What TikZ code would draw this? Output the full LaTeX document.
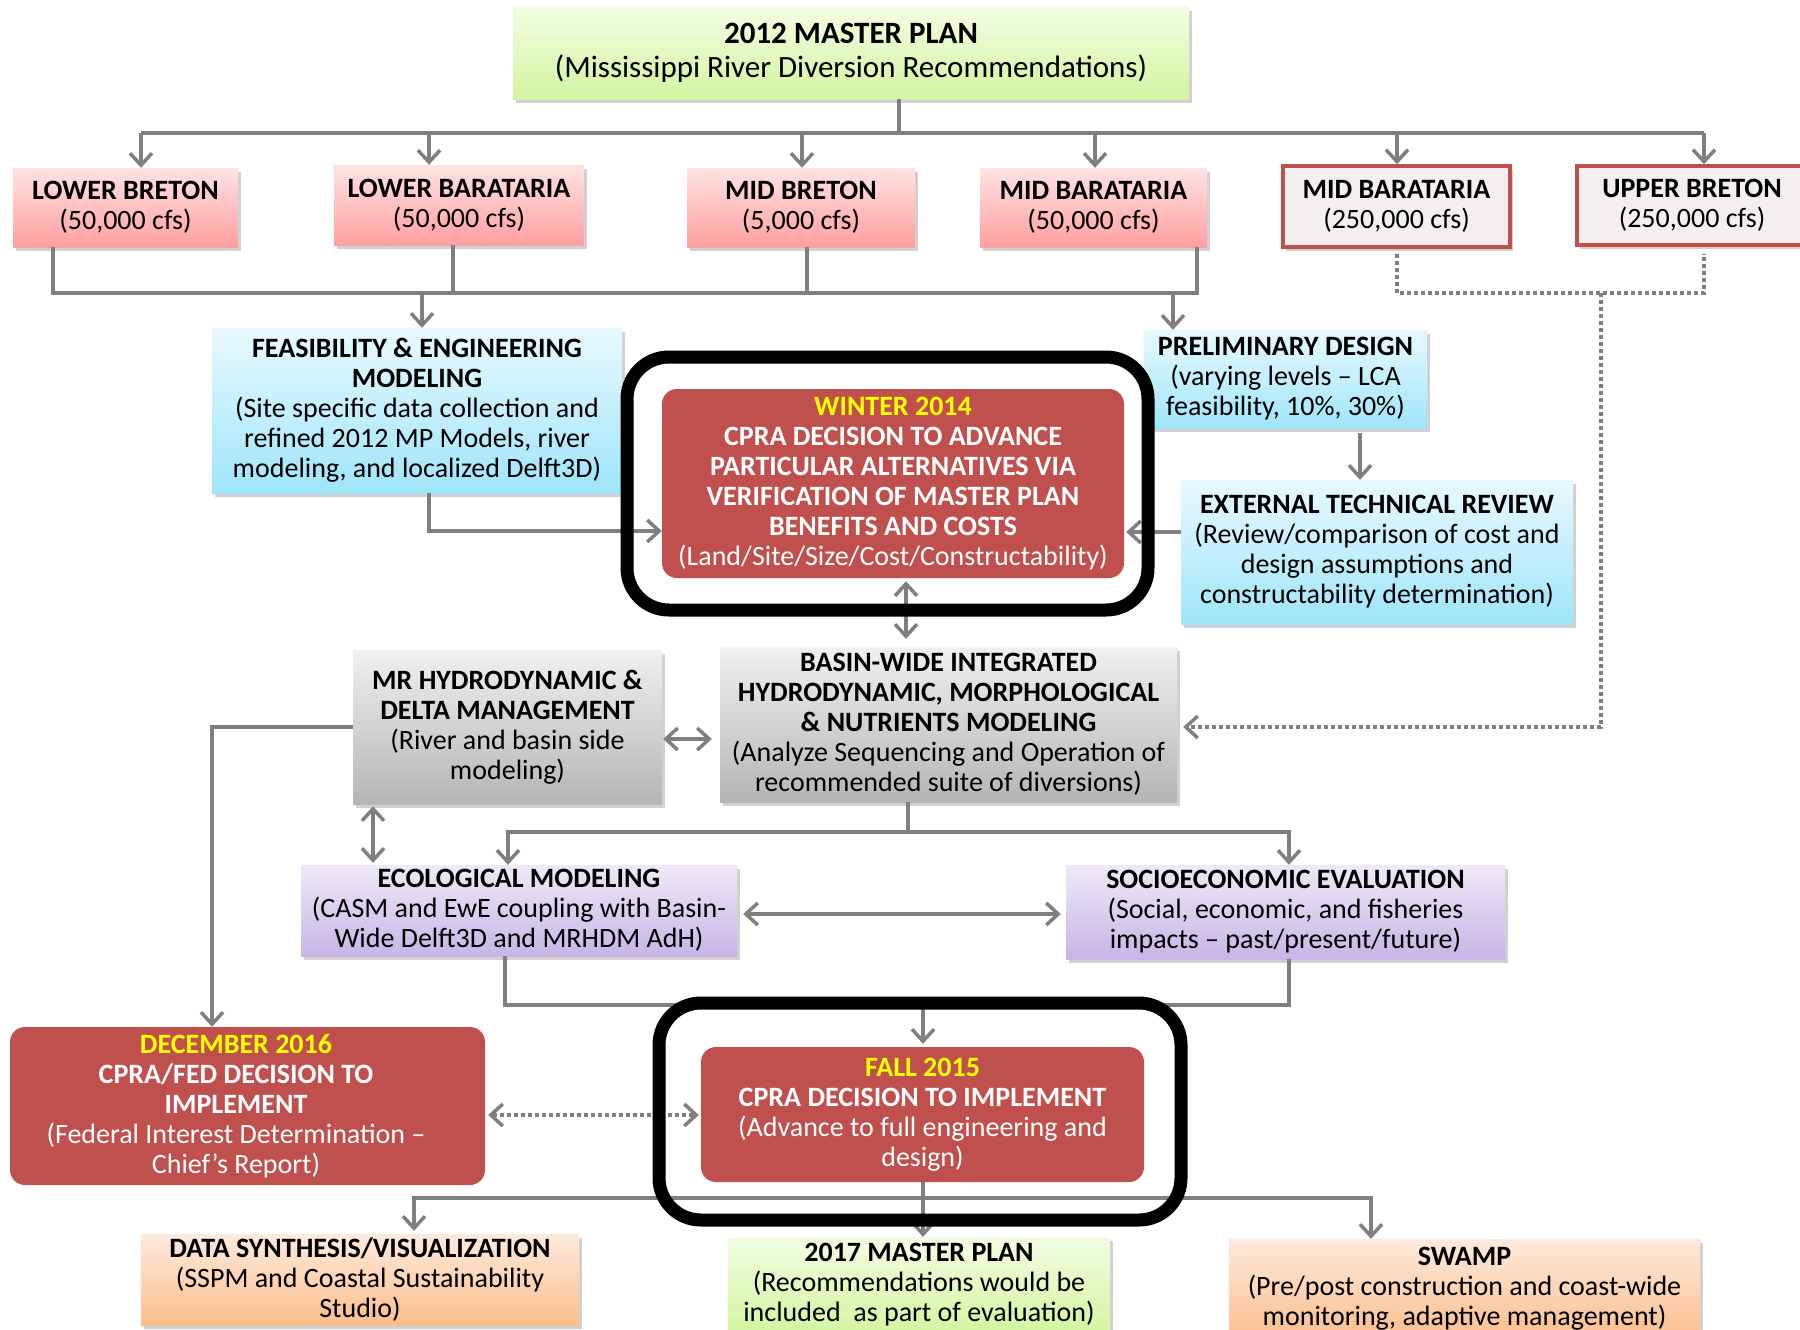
\documentclass[tikz,border=0pt]{standalone}
\usepackage{fontspec}
\setmainfont{Carlito}
\usetikzlibrary{arrows.meta,shadows,calc}
\definecolor{connc}{HTML}{7F7F7F}
\definecolor{cprared}{HTML}{C0504D}
\definecolor{greenT}{HTML}{F2FDE3}
\definecolor{greenB}{HTML}{D3F5A0}
\definecolor{pinkT}{HTML}{FFE3E3}
\definecolor{pinkB}{HTML}{FF9F9F}
\definecolor{blueT}{HTML}{E8F9FE}
\definecolor{blueB}{HTML}{9FE5FA}
\definecolor{grayT}{HTML}{F0F0F0}
\definecolor{grayB}{HTML}{B5B5B5}
\definecolor{purpT}{HTML}{EEE9F7}
\definecolor{purpB}{HTML}{C7B5E6}
\definecolor{orT}{HTML}{FEEADD}
\definecolor{orB}{HTML}{FBBE8C}
\definecolor{offwhite}{HTML}{F2EFEE}
\definecolor{yel}{HTML}{FFFF00}
\newcommand{\rpad}{\rule{23pt}{0pt}}
\begin{document}
\begin{tikzpicture}[x=1pt,y=-1pt,
  box/.style={inner sep=0pt, align=center, font=\fontsize{28}{30}\selectfont, text=black,
    drop shadow={shadow xshift=3pt, shadow yshift=-4pt, opacity=0.3, fill=black!60}},
  pinkbox/.style={box, top color=pinkT, bottom color=pinkB},
  greenbox/.style={box, top color=greenT, bottom color=greenB},
  bluebox/.style={box, top color=blueT, bottom color=blueB},
  graybox/.style={box, top color=grayT, bottom color=grayB},
  purpbox/.style={box, top color=purpT, bottom color=purpB},
  orbox/.style={box, top color=orT, bottom color=orB},
  altbox/.style={box, fill=offwhite, draw=cprared, line width=3.5pt},
  redbox/.style={inner sep=0pt, align=center, font=\fontsize{28}{30}\selectfont, text=white,
    fill=cprared, rounded corners=15pt},
  frame/.style={draw=black, line width=13pt, rounded corners=42pt, inner sep=0pt},
  conn/.style={draw=connc, line width=3.5pt},
  arr/.style={conn, -{Straight Barb[length=12pt,width=22pt]}},
  dbl/.style={conn, {Straight Barb[length=12pt,width=22pt]}-{Straight Barb[length=12pt,width=22pt]}},
  dots/.style={conn, dash pattern=on 4pt off 3pt},
  dotarr/.style={dots, -{Straight Barb[length=12pt,width=22pt]}},
  dotdbl/.style={dots, {Straight Barb[length=12pt,width=22pt]}-{Straight Barb[length=12pt,width=22pt]}},
]
\useasboundingbox (0,0) rectangle (1800,1330);

% ---------- nodes ----------
\node[greenbox, minimum width=676pt, minimum height=92pt, font=\fontsize{31}{34}\selectfont] (mp2012) at (851,53)
  {\textbf{2012 MASTER PLAN}\\(Mississippi River Diversion Recommendations)};

\node[pinkbox, minimum width=225pt, minimum height=79pt] (lb) at (125.5,207.5) {\textbf{LOWER BRETON}\\(50,000 cfs)};
\node[pinkbox, minimum width=250pt, minimum height=80pt] (lbar) at (459,205) {\textbf{LOWER BARATARIA}\\(50,000 cfs)};
\node[pinkbox, minimum width=228pt, minimum height=79pt] (mb) at (801,207.5) {\textbf{MID BRETON}\\(5,000 cfs)};
\node[pinkbox, minimum width=227pt, minimum height=79pt] (mbar) at (1093.5,207.5) {\textbf{MID BARATARIA}\\(50,000 cfs)};
\node[altbox, minimum width=227pt, minimum height=81pt] (mbar250) at (1396.5,206.5) {\textbf{MID BARATARIA}\\(250,000 cfs)};
\node[altbox, minimum width=230pt, minimum height=79pt] (ub) at (1692,205.5) {\textbf{UPPER BRETON}\\(250,000 cfs)};

\node[bluebox, minimum width=410pt, minimum height=165pt] (feas) at (417,410.5)
  {\textbf{FEASIBILITY \& ENGINEERING}\\\textbf{MODELING}\\(Site specific data collection and\\refined 2012 MP Models, river\\modeling, and localized Delft3D)};
\node[bluebox, minimum width=283pt, minimum height=98pt] (prelim) at (1285.5,379)
  {\textbf{PRELIMINARY DESIGN}\\(varying levels -- LCA\\feasibility, 10\%, 30\%)};
\node[bluebox, minimum width=392pt, minimum height=144pt] (etr) at (1377,552)
  {\textbf{EXTERNAL TECHNICAL REVIEW}\\(Review/comparison of cost and\\design assumptions and\\constructability determination)};

\node[redbox, minimum width=462pt, minimum height=189pt] (winter) at (893,483.5)
  {{\color{yel}\textbf{WINTER 2014}}\\\textbf{CPRA DECISION TO ADVANCE}\\\textbf{PARTICULAR ALTERNATIVES VIA}\\\textbf{VERIFICATION OF MASTER PLAN}\\\textbf{BENEFITS AND COSTS}\\(Land/Site/Size/Cost/Constructability)};

\node[graybox, minimum width=309pt, minimum height=154pt] (mr) at (507.5,727)
  {\textbf{MR HYDRODYNAMIC \&}\\\textbf{DELTA MANAGEMENT}\\(River and basin side\\modeling)};
\node[graybox, minimum width=457pt, minimum height=155pt] (basin) at (948.5,724.5)
  {\textbf{BASIN-WIDE INTEGRATED}\\\textbf{HYDRODYNAMIC, MORPHOLOGICAL}\\\textbf{\& NUTRIENTS MODELING}\\(Analyze Sequencing and Operation of\\recommended suite of diversions)};

\node[purpbox, minimum width=436pt, minimum height=91pt] (eco) at (519,910.5)
  {\textbf{ECOLOGICAL MODELING}\\(CASM and EwE coupling with Basin-\\Wide Delft3D and MRHDM AdH)};
\node[purpbox, minimum width=439pt, minimum height=94pt] (socio) at (1285.5,912)
  {\textbf{SOCIOECONOMIC EVALUATION}\\(Social, economic, and fisheries\\impacts -- past/present/future)};

\node[redbox, minimum width=475pt, minimum height=158pt] (dec) at (247.5,1106)
  {{\color{yel}\textbf{DECEMBER 2016}}\rpad\\\textbf{CPRA/FED DECISION TO}\rpad\\\textbf{IMPLEMENT}\rpad\\(Federal Interest Determination --\rpad\\Chief’s Report)\rpad};
\node[redbox, minimum width=443pt, minimum height=135pt] (fall) at (922.5,1114.5)
  {{\color{yel}\textbf{FALL 2015}}\\\textbf{CPRA DECISION TO IMPLEMENT}\\(Advance to full engineering and\\design)};

\node[orbox, minimum width=438pt, minimum height=91pt] (data) at (360,1279.5)
  {\textbf{DATA SYNTHESIS/VISUALIZATION}\\(SSPM and Coastal Sustainability\\Studio)};
\node[greenbox, minimum width=382pt, minimum height=96pt] (mp2017) at (919,1285)
  {\textbf{2017 MASTER PLAN}\\(Recommendations would be\\included\ \ as part of evaluation)};
\node[orbox, minimum width=471pt, minimum height=100pt] (swamp) at (1464.5,1289)
  {\textbf{SWAMP}\\(Pre/post construction and coast-wide\\monitoring, adaptive management)};

% ---------- connectors ----------
\coordinate (b1) at (899,133);
\coordinate (a1) at (141,133);
\coordinate (a2) at (429,133);
\coordinate (a3) at (802,133);
\coordinate (a4) at (1095,133);
\coordinate (a5) at (1397,133);
\coordinate (a6) at (1704,133);
\draw[conn] (mp2012.south -| b1) -- (b1);
\draw[conn] (a1) -- (a6);
\foreach \c/\n in {a1/lb,a2/lbar,a3/mb,a4/mbar,a5/mbar250,a6/ub}
  \draw[arr] (\c) -- (\c |- \n.north);

\coordinate (c1) at (53,293);
\coordinate (c2) at (453,293);
\coordinate (c3) at (807,293);
\coordinate (c4) at (1197,293);
\coordinate (c5) at (422,293);
\coordinate (c6) at (1173,293);
\draw[conn] (c1 |- lb.south) -- (c1) -- (c4) -- (c4 |- mbar.south);
\draw[conn] (c2 |- lbar.south) -- (c2);
\draw[conn] (c3 |- mb.south) -- (c3);
\draw[arr] (c5) -- (c5 |- feas.north);
\draw[arr] (c6) -- (c6 |- prelim.north);

\coordinate (d1) at (1397,293);
\coordinate (d2) at (1704,293);
\coordinate (d3) at (1601,293);
\coordinate (d4) at (1601,727);
\draw[dots] ([yshift=-5pt]d1 |- mbar250.south) -- (d1) -- (d2) -- ([yshift=-7pt]d2 |- ub.south);
\draw[dotarr, shorten >=6pt] (d3) -- (d4) -- (d4 -| basin.east);

\coordinate (e1) at (429,531);
\draw[arr] (e1 |- feas.south) -- (e1) -- (e1 -| winter.west);
\coordinate (e2) at (1181,532);
\draw[arr, shorten >=2pt] (e2 -| etr.west) -- (e2 -| winter.east);
\coordinate (e3) at (1360,0);
\draw[arr, shorten <=5pt] (e3 |- prelim.south) -- (e3 |- etr.north);
\coordinate (e4) at (906,0);
\draw[dbl, shorten <=3pt, shorten >=8pt] (e4 |- winter.south) -- (e4 |- basin.north);
\coordinate (e5) at (0,739);
\draw[dbl, shorten <=1pt, shorten >=8pt] (e5 -| mr.east) -- (e5 -| basin.west);
\coordinate (e6) at (212,727);
\draw[arr] (e6 -| mr.west) -- (e6) -- (e6 |- dec.north);
\coordinate (e7) at (373,0);
\draw[dbl, shorten <=2pt, shorten >=2pt] (e7 |- mr.south) -- (e7 |- eco.north);

\coordinate (f1) at (908,832);
\coordinate (f2) at (508,832);
\coordinate (f3) at (1289,832);
\draw[conn] (f1 |- basin.south) -- (f1);
\draw[arr] (f1) -- (f2) -- (f2 |- eco.north);
\draw[arr] (f1) -- (f3) -- (f3 |- socio.north);
\coordinate (g1) at (0,914);
\draw[dbl, shorten <=6pt, shorten >=5pt] (g1 -| eco.east) -- (g1 -| socio.west);

\coordinate (h1) at (505,1005);
\coordinate (h2) at (1289,1005);
\coordinate (h3) at (923,1005);
\draw[conn] (h1 |- eco.south) -- (h1) -- (h2) -- (h2 |- socio.south);
\draw[arr, shorten >=3pt] (h3) -- (h3 |- fall.north);
\coordinate (i1) at (0,1115);
\draw[dotdbl, shorten <=3pt, shorten >=2pt] (i1 -| dec.east) -- (i1 -| fall.west);

\coordinate (j1) at (923,1198);
\coordinate (j2) at (414,1198);
\coordinate (j3) at (1371,1198);
\draw[arr] (j1 |- fall.south) -- (j1 |- mp2017.north);
\draw[arr, shorten >=3pt] (j1) -- (j2) -- (j2 |- data.north);
\draw[arr] (j1) -- (j3) -- (j3 |- swamp.north);

% ---------- frames ----------
\node[frame, minimum width=521pt, minimum height=253pt] (frameA) at (887.5,483.5) {};
\node[frame, minimum width=522pt, minimum height=217pt] (frameB) at (920,1111.5) {};
\end{tikzpicture}
\end{document}
